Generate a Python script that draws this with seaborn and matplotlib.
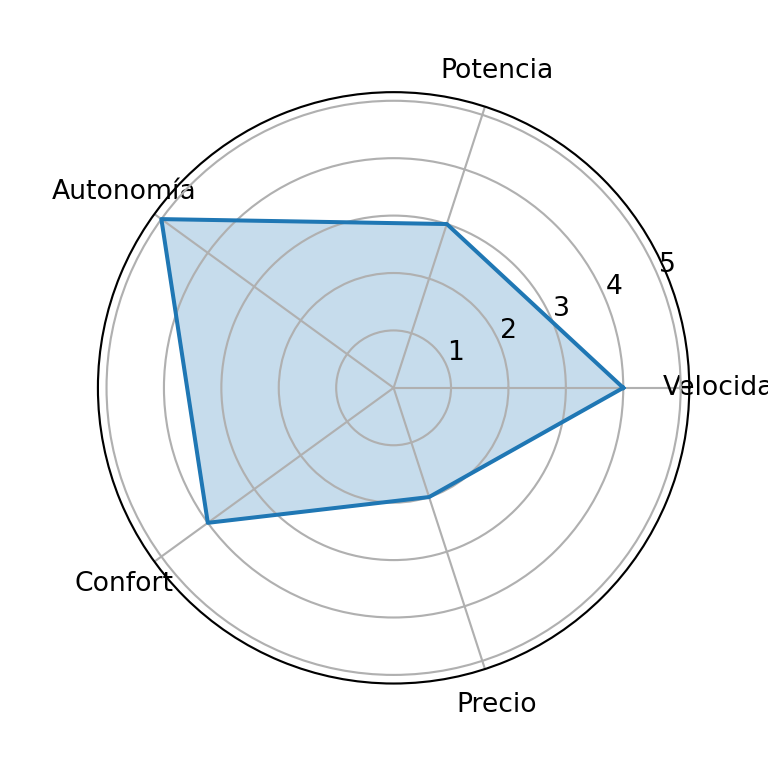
import numpy as np
import pandas as pd
import matplotlib
matplotlib.use("Agg")
import matplotlib.pyplot as plt
import seaborn as sns

categories = ["Velocidad", "Potencia", "Autonomía", "Confort", "Precio"]
values = [4, 3, 5, 4, 2]
rticks = [1, 2, 3, 4, 5]

n = len(categories)
angles = [i * 2 * np.pi / n for i in range(n)]
closed_angles = angles + [2 * np.pi]
closed_values = values + [values[0]]
df = pd.DataFrame({"angle": closed_angles, "value": closed_values})

color = sns.color_palette("tab10")[0]

fig = plt.figure(figsize=(4, 4), dpi=192)
ax = fig.add_subplot(111, projection="polar")
sns.lineplot(data=df, x="angle", y="value", sort=False, estimator=None,
             ax=ax, color=color, linewidth=1.5)
ax.fill(df["angle"], df["value"], color=color, alpha=0.25)
ax.set_xticks(angles)
ax.set_xticklabels(categories)
ax.set_yticks(rticks)
ax.set_ylim(0, 5.15)
ax.set_xlabel("")
ax.set_ylabel("")
fig.savefig("out.png", dpi=192)
